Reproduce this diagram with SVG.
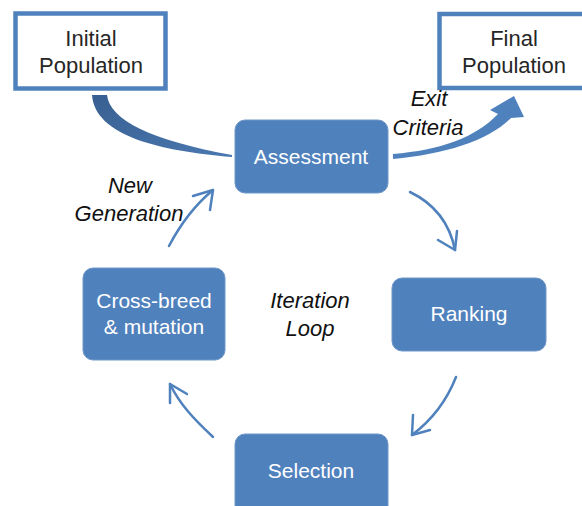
<svg xmlns="http://www.w3.org/2000/svg" width="582" height="506" viewBox="0 0 582 506">
<defs>
<style>
.box{fill:#4f81bd;stroke:#6f97c9;stroke-width:1}
.frame{fill:#ffffff;stroke:#4f81bd;stroke-width:4.5}
.bt{font-family:"Liberation Sans",Arial,sans-serif;font-size:21px;fill:#ffffff;text-anchor:middle}
.ft{font-family:"Liberation Sans",Arial,sans-serif;font-size:22px;fill:#262626;text-anchor:middle}
.it{font-family:"Liberation Sans",Arial,sans-serif;font-size:22px;font-style:italic;fill:#111111;text-anchor:middle}
.arr{fill:none;stroke:#4f81bd;stroke-width:2.5;stroke-linecap:round;stroke-linejoin:round}
</style>
<linearGradient id="g1" x1="0" y1="0" x2="1" y2="1">
<stop offset="0" stop-color="#385f91"/>
<stop offset="1" stop-color="#4a78b0"/>
</linearGradient>
</defs>
<rect width="582" height="506" fill="#ffffff"/>
<g id="connectors">
<path d="M92,95 L107,95 C110,120 150,140 232,155 L232,157 C160,151 95,136 92,95 Z" fill="url(#g1)"/>
<path d="M393,154 C440,150 475,138 498,114 L490,110 L514,96 L524,117 L511,118 C488,141 445,154 393,159 Z" fill="#4f81bd"/>
<path class="arr" d="M410,192 C437,205 450,225 455,250"/>
<polyline class="arr" points="438,240 455,250 457,231"/>
<path class="arr" d="M456,377 C447,400 432,420 412,435"/>
<polyline class="arr" points="413,415 412,435 430,430"/>
<path class="arr" d="M213,437 C195,420 180,405 170,384"/>
<polyline class="arr" points="170,403 170,384 187,394"/>
<path class="arr" d="M169,246 C180,225 195,205 213,190"/>
<polyline class="arr" points="193,196 213,190 210,210"/>
</g>
<g id="initial">
<rect class="frame" x="15.5" y="13.5" width="150" height="75"/>
<text class="ft" x="91" y="46">Initial</text>
<text class="ft" x="91" y="73">Population</text>
</g>
<g id="final">
<rect class="frame" x="439.5" y="14" width="160" height="74"/>
<text class="ft" x="514" y="46">Final</text>
<text class="ft" x="514" y="73">Population</text>
</g>
<g id="assessment">
<rect class="box" x="235" y="120" width="153" height="73" rx="10"/>
<text class="bt" x="311" y="164">Assessment</text>
</g>
<g id="ranking">
<rect class="box" x="392" y="278" width="154" height="73" rx="10"/>
<text class="bt" x="469" y="321">Ranking</text>
</g>
<g id="selection">
<rect class="box" x="235" y="434" width="153" height="82" rx="10"/>
<text class="bt" x="311" y="478">Selection</text>
</g>
<g id="crossbreed">
<rect class="box" x="83" y="268" width="142" height="92" rx="10"/>
<text class="bt" x="154" y="308">Cross-breed</text>
<text class="bt" x="154" y="334">&amp; mutation</text>
</g>
<g id="labels">
<text class="it" x="429" y="106">Exit</text>
<text class="it" x="428" y="135">Criteria</text>
<text class="it" x="130" y="193">New</text>
<text class="it" x="129" y="221">Generation</text>
<text class="it" x="310" y="308">Iteration</text>
<text class="it" x="310" y="336">Loop</text>
</g>
</svg>
